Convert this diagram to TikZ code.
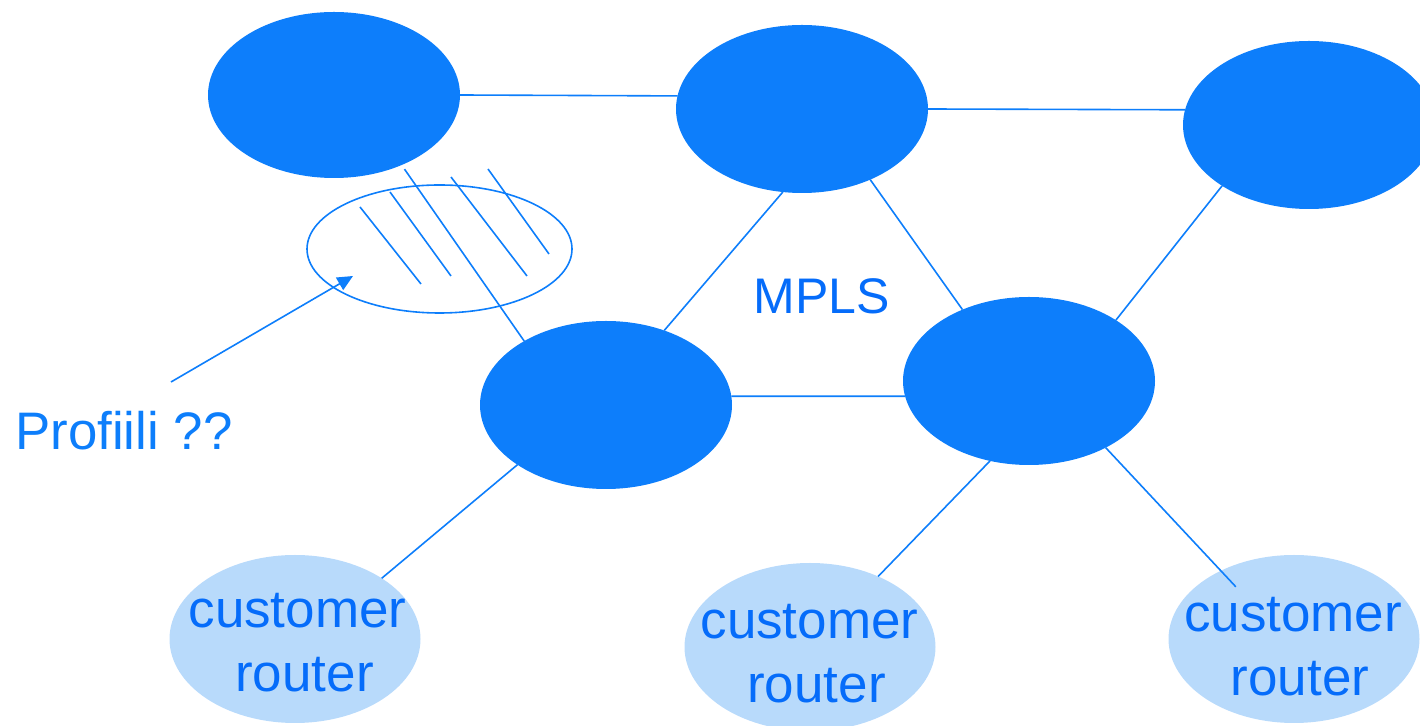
\documentclass[tikz,border=0pt]{standalone}
\usepackage{fontspec}
\setmainfont{Liberation Sans}
\usetikzlibrary{shapes.geometric,arrows.meta}
\definecolor{darkblue}{RGB}{13,126,251}
\definecolor{lightblue}{RGB}{184,218,251}
\definecolor{textblue}{RGB}{5,108,250}
\tikzset{
  core/.style={ellipse, fill=darkblue, draw=none, inner sep=0pt, outer sep=0pt,
    minimum width=126pt, minimum height=84pt},
  custrouter/.style={ellipse, fill=lightblue, draw=none, inner sep=0pt, outer sep=0pt,
    minimum width=125.5pt, minimum height=84pt},
  crtext/.style={align=center, text=textblue, inner sep=0pt, anchor=base,
    font=\fontsize{26.5}{32}\selectfont},
  link/.style={draw=darkblue, line width=0.8pt},
  hatchline/.style={draw=darkblue, line width=0.8pt},
  lbl/.style={text=textblue, inner sep=0pt}
}
\begin{document}
\begin{tikzpicture}[x=0.5pt, y=-0.5pt]
\useasboundingbox (0,0) rectangle (1420,726);
% customer routers
\node[custrouter] (CR1) at (295,639) {};
\node[custrouter] (CR2) at (810,647) {};
\node[custrouter] (CR3) at (1294,639) {};
% core routers
\node[core, minimum height=83pt] (A) at (334,95) {};
\node[core] (B) at (802,109) {};
\node[core] (C) at (1309,125) {};
\node[core] (D) at (606,405) {};
\node[core] (E) at (1029,381) {};
% profile ellipse
\node[ellipse, draw=darkblue, line width=0.8pt, inner sep=0pt, outer sep=0pt,
  minimum width=132.5pt, minimum height=64pt] (H) at (439.5,249) {};
% links
\draw[link] (A.east) -- (B.174);
\draw[link] (B.east) -- (C.173);
\draw[link] (B.257) -- (D.52);
\draw[link] (B.314) -- (E.133);
\draw[link] (C.215) -- (E.35);
\draw[link] (D.4) -- (E.187);
\draw[link] (D.214) -- (CR1.35);
\draw[link] (E.244) -- (CR2.46);
\draw[link, shorten >=-11pt] (E.319) -- (CR3.137);
\draw[link, shorten <=2.5pt] (A.314) -- (D.142);
% hatch lines
\draw[hatchline] (360,207) -- (421,284);
\draw[hatchline] (390,192) -- (451,276);
\draw[hatchline] (451,177) -- (527,276);
\draw[hatchline] (488,169) -- (549,254);
% customer router texts
\node[crtext] (CR1t) at (297.5,692) {customer\\\hspace*{7pt}router};
\node[crtext] (CR2t) at (809.5,702.5) {customer\\\hspace*{7pt}router};
\node[crtext] (CR3t) at (1293,696) {customer\\\hspace*{7pt}router};
% labels
\node[lbl, anchor=base, font=\fontsize{25}{30}\selectfont] (mpls) at (822,314) {MPLS};
\node[lbl, anchor=base, text=darkblue, font=\fontsize{26.4}{30}\selectfont] (prof) at (124,450) {Profiili ??};
\coordinate (ptail) at (171,382);
\coordinate (ptip) at (353,276);
\draw[link, -{Triangle[length=7.8pt,width=7.1pt]}] (ptail) -- (ptip);
\end{tikzpicture}
\end{document}
